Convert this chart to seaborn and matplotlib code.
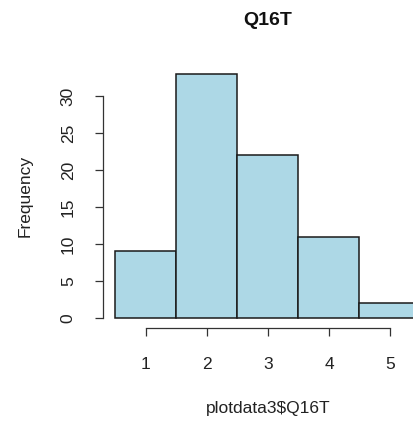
import matplotlib
matplotlib.use("Agg")
import matplotlib.pyplot as plt
import seaborn as sns

# Q16T response counts per answer level
levels = [1, 2, 3, 4, 5]
counts = [9, 33, 22, 11, 2]
breaks = [0.5, 1.5, 2.5, 3.5, 4.5, 5.5]
y_ticks = [0, 5, 10, 15, 20, 25, 30]

sns.set_theme(style="white")
plt.rcParams["font.family"] = ["Liberation Sans", "DejaVu Sans"]

W, H = 414, 421
fig = plt.figure(figsize=(W / 100, H / 100), dpi=100)
left, right, top, bottom = 103.3, 432.7, 64.0, 327.8
ax = fig.add_axes([left / W, 1 - bottom / H, (right - left) / W, (bottom - top) / H])

sns.histplot(x=levels, weights=counts, bins=breaks, ax=ax,
             color="#ADD8E6", edgecolor="#1a1a1a", linewidth=1.1, alpha=1.0)

ax.set_xlim(0.3, 5.7)
ax.set_ylim(-1.32, 34.32)

ax.spines["top"].set_visible(False)
ax.spines["right"].set_visible(False)
ax.spines["left"].set_bounds(0, 30)
ax.spines["bottom"].set_bounds(1, 5)
for s in ("left", "bottom"):
    ax.spines[s].set_color("#333333")
    ax.spines[s].set_linewidth(0.9)

ax.set_xticks(levels)
ax.set_yticks(y_ticks)
ax.tick_params(axis="both", direction="out", length=5.8, width=0.9,
               color="#333333", labelsize=12.5, labelcolor="#222222",
               bottom=True, left=True)
ax.tick_params(axis="x", pad=15)
ax.tick_params(axis="y", pad=14)
for lbl in ax.get_yticklabels():
    lbl.set_rotation(90)
    lbl.set_va("center")

ax.set_title("Q16T", fontsize=14, fontweight="bold", color="#111111", pad=28)
ax.set_xlabel("plotdata3$Q16T", fontsize=12.5, color="#222222", labelpad=21)
ax.set_ylabel("Frequency", fontsize=12.5, color="#222222", labelpad=20)
ax.grid(False)

fig.savefig("out.png", dpi=100)
